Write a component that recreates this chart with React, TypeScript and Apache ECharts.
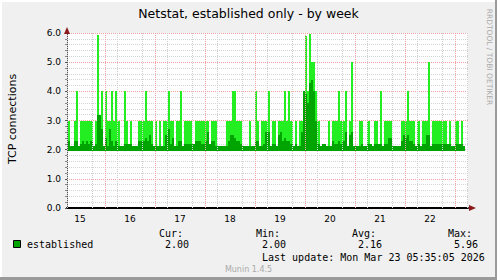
import React, { useEffect, useRef } from "react";
import * as echarts from "echarts";

// hours counted from Mar 15 00:00; first sample at hour 6, one sample per hour
const START_HOUR = 6;
const MAX_VALUES = [
  3, 2, 2, 3, 4, 2, 3, 3, 3, 3, 3, 3, 2, 3, 5.93, 3, 4, 2, 4, 3,
  3, 4, 3, 4, 3, 2, 2, 4, 3, 2, 3, 2, 2, 2, 3, 3, 3, 4, 3, 3,
  3, 2, 3, 2, 3, 2, 3, 3, 4, 3, 3, 2, 3, 3, 4, 2, 3, 3, 3, 3,
  2, 3, 3, 3, 3, 3, 3, 3, 2, 3, 3, 3, 2, 2, 2, 2, 3, 3, 3, 4,
  4, 3, 3, 3, 2, 2, 2, 3, 2, 2, 4, 3, 2, 3, 3, 3, 4, 2, 3, 3,
  2, 3, 3, 3, 4, 3, 4, 3, 2, 3, 2, 3, 3, 4, 5.9, 4, 5.96, 5, 5, 4,
  3, 2, 2, 2, 2, 3, 2, 3, 3, 3, 4, 3, 3, 4, 2, 3, 5, 2, 2, 2,
  3, 3, 2, 2, 3, 2, 2, 3, 3, 2, 4, 2, 3, 3, 3, 3, 2, 2, 2, 2,
  3, 3, 3, 4, 3, 3, 3, 2, 3, 2, 3, 3, 3, 5, 2, 3, 3, 3, 3, 3,
  3, 3, 2, 3, 2, 2, 3, 3, 2, 3, 2,
];
const AVG_VALUES = [
  2.3, 2.1, 2.05, 2.3, 2.3, 2.05, 2.2, 2.3, 2.2, 2.3, 2.2, 2.3, 2.05, 2.2, 3.2, 3.2, 2.7, 2.1, 2.4, 2.1,
  2.7, 2.3, 2.1, 2.3, 2.1, 2.05, 2.1, 2.2, 2.2, 2.2, 2.2, 2.05, 2.0, 2.0, 2.3, 2.3, 2.3, 2.4, 2.3, 2.5,
  2.2, 2.05, 2.1, 2.05, 2.1, 2.05, 2.1, 2.5, 2.7, 2.2, 2.4, 2.1, 2.1, 2.3, 2.3, 2.05, 2.2, 2.2, 2.2, 2.2,
  2.2, 2.3, 2.3, 2.3, 2.2, 2.2, 2.3, 2.6, 2.2, 2.3, 2.3, 2.1, 2.05, 2.0, 2.0, 2.0, 2.1, 2.3, 2.5, 2.5,
  2.4, 2.3, 2.3, 2.2, 2.05, 2.0, 2.05, 2.1, 2.0, 2.05, 2.3, 2.3, 2.1, 2.1, 2.2, 2.6, 2.6, 2.05, 2.2, 2.2,
  2.05, 2.5, 2.6, 2.3, 2.4, 2.3, 2.3, 2.2, 2.05, 2.2, 2.05, 2.1, 2.6, 4.0, 3.9, 3.6, 4.3, 4.4, 4.0, 3.0,
  2.2, 2.1, 2.2, 2.2, 2.05, 2.1, 2.05, 2.3, 2.2, 2.2, 2.3, 2.2, 2.3, 2.6, 2.1, 2.5, 2.6, 2.1, 2.05, 2.05,
  2.1, 2.2, 2.1, 2.05, 2.2, 2.2, 2.05, 2.2, 2.2, 2.2, 2.2, 2.1, 2.2, 2.2, 2.4, 2.4, 2.05, 2.0, 2.0, 2.05,
  2.3, 2.5, 2.4, 2.5, 2.3, 2.3, 2.2, 2.1, 2.2, 2.1, 2.2, 2.2, 2.5, 2.5, 2.1, 2.2, 2.2, 2.2, 2.2, 2.2,
  2.2, 2.2, 2.2, 2.2, 2.05, 2.05, 2.2, 2.2, 2.2, 2.2, 2.05,
];
const DAY_LABELS = ["15", "16", "17", "18", "19", "20", "21", "22"];
const LABEL_HOURS = [12, 36, 60, 84, 108, 132, 156, 180];
const MIDNIGHT_HOURS = [24, 48, 72, 96, 120, 144, 168, 192];
const MINOR_HOURS = [6, 18, 30, 42, 54, 66, 78, 90, 102, 114, 126, 138, 150, 162, 174, 186, 198];
const LEGEND_HEADERS = ["Cur:", "Min:", "Avg:", "Max:"];
const LEGEND_VALUES = ["2.00", "2.00", "2.16", "5.96"];
const SERIES_NAME = "established";
const TITLE = "Netstat, established only - by week";
const Y_NAME = "TCP connections";
const LAST_UPDATE = "Last update: Mon Mar 23 05:35:05 2026";

const X_MIN = 5.76;
const X_MAX = 198.24;
const BASE = 2.0;
const BRIGHT = "#22ee22";
const DARK = "#00a400";
const SANS = "DejaVu Sans";
const MONO = "DejaVu Sans Mono";

export default function App() {
  const ref = useRef<HTMLDivElement>(null);
  useEffect(() => {
    if (!ref.current) return;
    const chart = echarts.init(ref.current, null, { renderer: "svg" });
    const data = MAX_VALUES.map((m, i) => [START_HOUR + i, m, AVG_VALUES[i]]);

    const renderItem = (params: any, api: any) => {
      const idx = params.dataIndex;
      const h = api.value(0);
      const mx = api.value(1);
      const av = api.value(2);
      const p0 = api.coord([h, BASE]);
      const p1 = api.coord([h + 1, BASE]);
      const x = Math.round(p0[0]);
      const w = Math.max(1, Math.round(p1[0]) - x);
      const yBase = Math.round(p0[1]);
      const children: any[] = [];
      if (mx > BASE) {
        const y3 = Math.round(api.coord([h, Math.min(mx, 3)])[1]);
        children.push({ type: "rect", shape: { x, y: y3, width: w, height: yBase - y3 }, style: { fill: BRIGHT } });
        if (mx > 3) {
          const prev = idx > 0 ? MAX_VALUES[idx - 1] : 0;
          const next = idx < MAX_VALUES.length - 1 ? MAX_VALUES[idx + 1] : 0;
          const wide = prev > 3 && next > 3;
          const yM = Math.round(api.coord([h, mx])[1]);
          const sw = wide ? w : 2;
          children.push({ type: "rect", shape: { x, y: yM, width: sw, height: y3 - yM }, style: { fill: BRIGHT } });
        }
      }
      const yA = Math.min(Math.round(api.coord([h, av])[1]), yBase - 4);
      children.push({ type: "rect", shape: { x, y: yA, width: w, height: yBase + 1 - yA }, style: { fill: DARK } });
      return { type: "group", children };
    };

    const vLines: any[] = [
      ...MINOR_HOURS.map((h) => ({ xAxis: h, lineStyle: { color: "#cfcfcf", type: [1, 1], width: 1 } })),
      ...MIDNIGHT_HOURS.map((h) => ({ xAxis: h, lineStyle: { color: "#f2a0a0", type: [1, 1], width: 1 } })),
    ];

    const legendTexts: any[] = [];
    const headerX = [159, 256, 352, 448];
    LEGEND_HEADERS.forEach((t, i) => {
      legendTexts.push({
        type: "text", x: headerX[i], y: 233,
        style: { text: t, font: `10px "${MONO}"`, fill: "#000", verticalAlign: "middle" },
      });
      legendTexts.push({
        type: "text", x: headerX[i] + 6, y: 244.5,
        style: { text: LEGEND_VALUES[i], font: `10px "${MONO}"`, fill: "#000", verticalAlign: "middle" },
      });
    });

    chart.setOption({
      animation: false,
      backgroundColor: "#f0f0f0",
      grid: { left: 67, top: 33, width: 401, height: 175, show: true, backgroundColor: "#ffffff", borderWidth: 0 },
      xAxis: {
        type: "value",
        min: X_MIN,
        max: X_MAX,
        splitLine: { show: false },
        axisTick: { show: false },
        axisLine: { show: true, onZero: false, lineStyle: { color: "#000", width: 2 } },
        axisLabel: {
          customValues: LABEL_HOURS,
          formatter: (v: number) => DAY_LABELS[LABEL_HOURS.indexOf(Math.round(v))] ?? "",
          fontFamily: SANS,
          fontSize: 9,
          color: "#000",
          margin: 6,
        },
      },
      yAxis: {
        type: "value",
        min: 0,
        max: 6,
        interval: 1,
        axisLine: { show: true, lineStyle: { color: "#555", width: 1 } },
        axisTick: { show: true, length: 2, lineStyle: { color: "#555" } },
        minorTick: { show: true, splitNumber: 5, length: 2, lineStyle: { color: "#888" } },
        splitLine: { show: true, lineStyle: { color: "#f2a0a0", type: [1, 1], width: 1 } },
        minorSplitLine: { show: true, lineStyle: { color: "#d4d4d4", type: [1, 1], width: 1 } },
        axisLabel: {
          formatter: (v: number) => v.toFixed(1),
          fontFamily: SANS,
          fontSize: 9,
          color: "#000",
          margin: 6,
        },
      },
      series: [
        {
          type: "line",
          data: [],
          z: 1,
          silent: true,
          markLine: { silent: true, symbol: "none", label: { show: false }, animation: false, data: vLines },
        },
        {
          type: "custom",
          name: SERIES_NAME,
          z: 3,
          clip: true,
          renderItem,
          encode: { x: 0, y: 1 },
          data,
        },
      ],
      graphic: [
        { type: "rect", shape: { x: 0, y: 0, width: 497, height: 2 }, style: { fill: "#ffffff" }, z: 100 },
        { type: "rect", shape: { x: 0, y: 0, width: 2, height: 280 }, style: { fill: "#ffffff" }, z: 100 },
        { type: "rect", shape: { x: 0, y: 277, width: 497, height: 3 }, style: { fill: "#9a9a9a" }, z: 100 },
        { type: "rect", shape: { x: 495, y: 0, width: 2, height: 280 }, style: { fill: "#9a9a9a" }, z: 100 },
        {
          type: "text", x: 248.5, y: 13, z: 100,
          style: { text: TITLE, font: `12.5px "${SANS}"`, fill: "#000", align: "center", verticalAlign: "middle" },
        },
        {
          type: "text", x: 12, y: 119, rotation: Math.PI / 2, z: 100,
          style: { text: Y_NAME, font: `11px "${SANS}"`, fill: "#000", align: "center", verticalAlign: "middle" },
        },
        {
          type: "text", x: 489, y: 57, rotation: -Math.PI / 2, z: 100,
          style: { text: "RRDTOOL / TOBI OETIKER", font: `7.5px "${SANS}"`, fill: "#aaaaaa", align: "center", verticalAlign: "middle" },
        },
        { type: "polygon", shape: { points: [[64, 34], [70, 34], [67, 27]] }, style: { fill: "#8b1a1a" }, z: 100 },
        { type: "polygon", shape: { points: [[469, 205], [469, 211], [476, 208]] }, style: { fill: "#8b1a1a" }, z: 100 },
        { type: "rect", shape: { x: 13.5, y: 240.5, width: 7, height: 7 }, style: { fill: DARK, stroke: "#000", lineWidth: 1 }, z: 100 },
        {
          type: "text", x: 27, y: 244.5, z: 100,
          style: { text: SERIES_NAME, font: `10px "${MONO}"`, fill: "#000", verticalAlign: "middle" },
        },
        ...legendTexts.map((t) => ({ ...t, z: 100 })),
        {
          type: "text", x: 262, y: 257.5, z: 100,
          style: { text: LAST_UPDATE, font: `10px "${MONO}"`, fill: "#000", verticalAlign: "middle" },
        },
        {
          type: "text", x: 248.5, y: 269, z: 100,
          style: { text: "Munin 1.4.5", font: `8px "${SANS}"`, fill: "#aaaaaa", align: "center", verticalAlign: "middle" },
        },
      ],
    });
    return () => chart.dispose();
  }, []);
  return <div ref={ref} style={{ position: "absolute", left: 0, top: 0, width: 497, height: 280 }} />;
}
